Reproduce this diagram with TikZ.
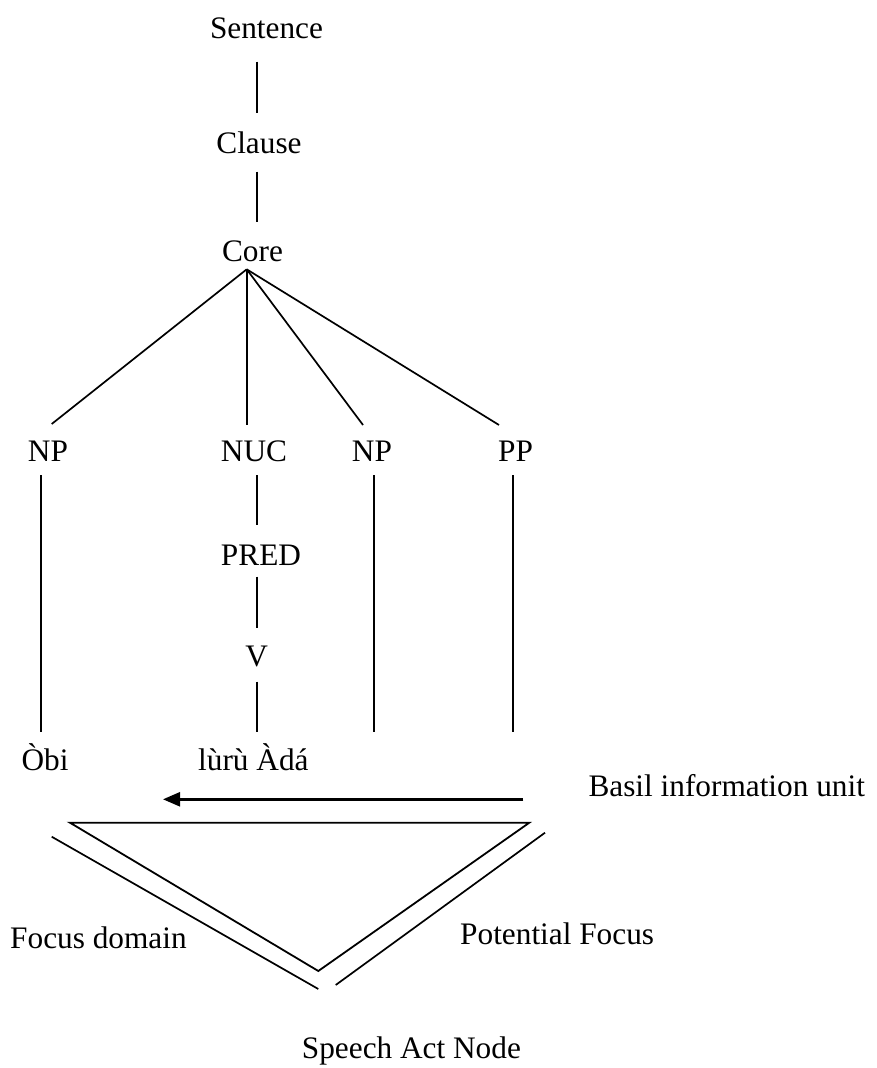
\documentclass[tikz,border=0pt]{standalone}
\usepackage{fontspec}
\setmainfont{Liberation Serif}
\usetikzlibrary{arrows.meta}
\begin{document}
\begin{tikzpicture}[x=1pt,y=-1pt,
  lbl/.style={inner sep=0pt, anchor=base, font=\fontsize{31.3}{37}\selectfont},
  lblw/.style={lbl, anchor=base west},
  branch/.style={line width=1.7pt},
  flow/.style={line width=2.4pt, -{Triangle[length=17pt,width=14pt]}},
  wedge/.style={line width=1.8pt, line join=miter}]
\useasboundingbox (0,0) rectangle (876,1068);

% labels of the clause structure
\node[lbl] (sentence) at (266.5,38) {Sentence};
\node[lbl] (clause) at (259,153) {Clause};
\node[lbl] (core) at (252.5,261.7) {Core};
\node[lbl] (np1) at (48,461.7) {NP};
\node[lbl] (nuc) at (254,461.7) {NUC};
\node[lbl] (np2) at (372,461.7) {NP};
\node[lbl] (pp) at (515.5,461.7) {PP};
\node[lbl] (pred) at (261,565) {PRED};
\node[lbl] (v) at (256.7,666.7) {V};
\node[lbl] (obi) at (45,770) {Òbi};
\node[lblw] (verb) at (198,770) {lùrù Àdá};
\node[lblw] (biu) at (588.3,796.7) {Basil information unit};
\node[lblw] (fd) at (10,948.3) {Focus domain};
\node[lblw] (pf) at (460,944) {Potential Focus};
\node[lblw] (san) at (301.7,1058.3) {Speech Act Node};

% branch end points
\coordinate (s1) at (256.7,61.7);   \coordinate (s2) at (256.7,113.3);
\coordinate (c1) at (256.7,171.7);  \coordinate (c2) at (256.7,221.7);
\coordinate (apex) at (246.7,269.3);
\coordinate (np1t) at (51.7,424);   \coordinate (nuct) at (246.7,425);
\coordinate (np2t) at (363,425);    \coordinate (ppt) at (499,425);
\coordinate (np1a) at (40.7,475);   \coordinate (np1b) at (40.7,731.7);
\coordinate (nuca) at (256.7,475);  \coordinate (nucb) at (256.7,525);
\coordinate (preda) at (256.7,576.7); \coordinate (predb) at (256.7,628);
\coordinate (va) at (256.7,681.7);  \coordinate (vb) at (256.7,731.7);
\coordinate (np2a) at (374.3,475);  \coordinate (np2b) at (374.3,731.7);
\coordinate (ppa) at (512.7,475);   \coordinate (ppb) at (512.7,731.7);

% tree branches
\draw[branch] (s1) -- (s2);
\draw[branch] (c1) -- (c2);
\draw[branch] (apex) -- (np1t);
\draw[branch] (apex) -- (nuct);
\draw[branch] (apex) -- (np2t);
\draw[branch] (apex) -- (ppt);
\draw[branch] (np1a) -- (np1b);
\draw[branch] (nuca) -- (nucb);
\draw[branch] (preda) -- (predb);
\draw[branch] (va) -- (vb);
\draw[branch] (np2a) -- (np2b);
\draw[branch] (ppa) -- (ppb);

% information flow arrow
\coordinate (arrs) at (523.3,799.3);
\coordinate (arre) at (163,799.3);
\draw[flow] (arrs) -- (arre);

% focus triangle and its outer edges
\coordinate (tl) at (70,822.7);
\coordinate (tr) at (529.3,822.7);
\coordinate (tb) at (318.3,971);
\draw[wedge] (tl) -- (tr) -- (tb) -- cycle;
\coordinate (ol1) at (51.7,836.7);  \coordinate (ol2) at (318.3,989);
\coordinate (or1) at (545,832.7);   \coordinate (or2) at (335.7,985);
\draw[branch] (ol1) -- (ol2);
\draw[branch] (or1) -- (or2);
\end{tikzpicture}
\end{document}
